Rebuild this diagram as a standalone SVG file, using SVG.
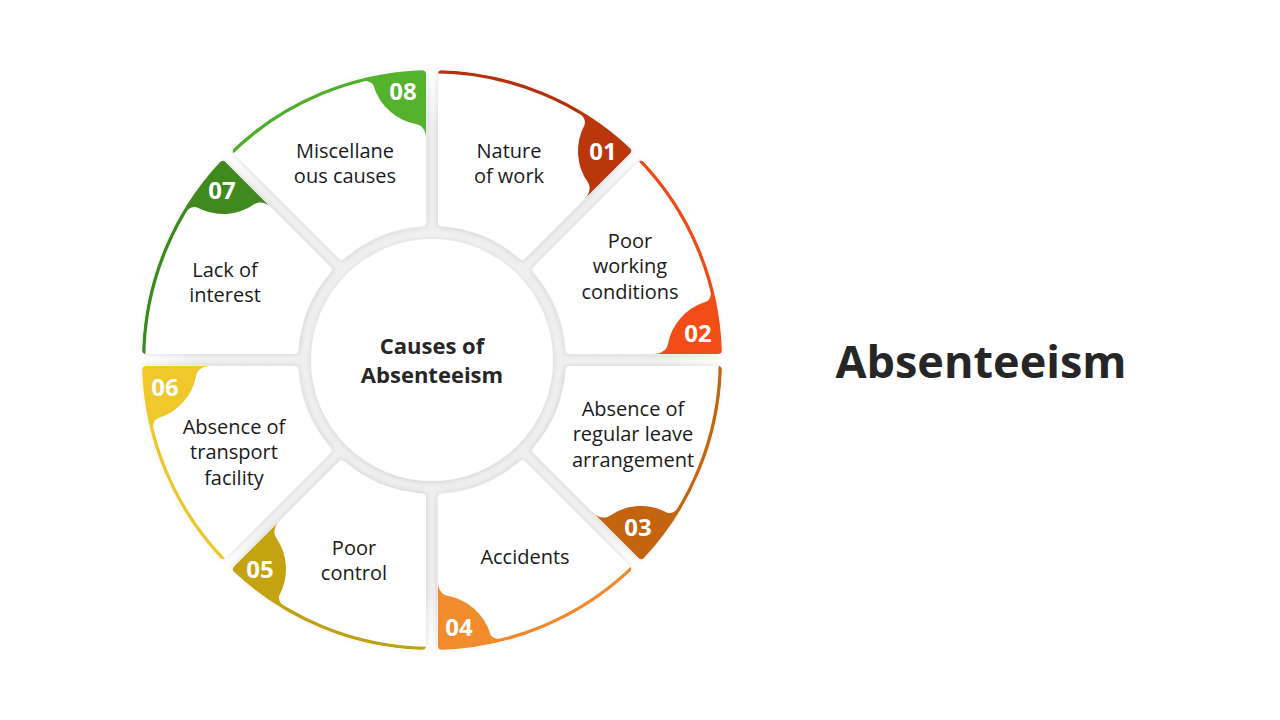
<svg xmlns="http://www.w3.org/2000/svg" xmlns:xlink="http://www.w3.org/1999/xlink" width="1280" height="720" viewBox="0 0 1280 720">
<defs>
<style>
.sec{fill:#fff;stroke:#fff;stroke-width:8;stroke-linejoin:round;filter:url(#sh)}
.arc{fill:none;stroke-width:3.6}
.lbl{font-family:"Open Sans","Noto Sans",sans-serif;font-size:20px;fill:#1a1a1a;text-anchor:middle}
.num{font-family:"Open Sans","Noto Sans",sans-serif;font-weight:700;font-size:24px;fill:#fff;text-anchor:middle}
.ctr{font-family:"Open Sans","Noto Sans",sans-serif;font-weight:700;font-size:22px;fill:#262626;text-anchor:middle}
.title{font-family:"Open Sans","Noto Sans",sans-serif;font-weight:700;font-size:45px;fill:#262626;text-anchor:middle}
</style>
<filter id="sh" x="-20%" y="-20%" width="140%" height="140%">
<feDropShadow dx="0" dy="1" stdDeviation="2.5" flood-color="#000" flood-opacity="0.13"/>
</filter>
<radialGradient id="bg" cx="432" cy="360" r="292" gradientUnits="userSpaceOnUse">
<stop offset="0" stop-color="#EFEFEF"/>
<stop offset="0.8" stop-color="#EFEFEF"/>
<stop offset="1" stop-color="#FFFFFF"/>
</radialGradient>
<path id="sp" d="M 10 -285.83 A 286 286 0 0 1 195.04 -209.18 L 90.25 -104.40 A 138 138 0 0 0 10 -137.64 Z"/>
<mask id="m" maskUnits="userSpaceOnUse" x="-300" y="-300" width="600" height="600">
<use xlink:href="#sp" fill="#fff" stroke="#fff" stroke-width="8" stroke-linejoin="round"/>
</mask>
<path id="arcp" d="M 0 -288.5 A 288.5 288.5 0 0 1 204 -204"/>
<path id="tab" d="M 131.7 -258.4 C 140.6 -253.9 156.6 -242.7 152.4 -234.8 A 55 55 0 0 0 155.95 -177.45 C 159.4 -172.5 157.0 -165.4 152.8 -161.2 L 226 -234 L 230 -290 L 140.7 -276.2 Z"/>
</defs>
<rect width="1280" height="720" fill="#fff"/>
<circle cx="432" cy="360" r="292" fill="url(#bg)"/>

<g id="node01">
<g transform="translate(432 360) rotate(0)">
<use xlink:href="#sp" class="sec"/>
<g mask="url(#m)"><use xlink:href="#arcp" class="arc" stroke="#B3300C"/><use xlink:href="#tab" fill="#BA370B"/></g>
</g>
<text class="lbl" x="509" y="158">Nature</text><text class="lbl" x="509" y="183">of work</text>
<text class="num" x="603" y="160">01</text>
</g>

<g id="node02">
<g transform="translate(432 360) rotate(45)">
<use xlink:href="#sp" class="sec"/>
<g mask="url(#m)"><use xlink:href="#arcp" class="arc" stroke="#EE4A18"/><use xlink:href="#tab" fill="#F24D16"/></g>
</g>
<text class="lbl" x="630" y="248">Poor</text><text class="lbl" x="630" y="273">working</text><text class="lbl" x="630" y="299">conditions</text>
<text class="num" x="698" y="342">02</text>
</g>

<g id="node03">
<g transform="translate(432 360) rotate(90)">
<use xlink:href="#sp" class="sec"/>
<g mask="url(#m)"><use xlink:href="#arcp" class="arc" stroke="#C46510"/><use xlink:href="#tab" fill="#C4640F"/></g>
</g>
<text class="lbl" x="633" y="416">Absence of</text><text class="lbl" x="633" y="441">regular leave</text><text class="lbl" x="633" y="467">arrangement</text>
<text class="num" x="638" y="536">03</text>
</g>

<g id="node04">
<g transform="translate(432 360) rotate(135)">
<use xlink:href="#sp" class="sec"/>
<g mask="url(#m)"><use xlink:href="#arcp" class="arc" stroke="#EE8A2C"/><use xlink:href="#tab" fill="#F08C2C"/></g>
</g>
<text class="lbl" x="525" y="564">Accidents</text>
<text class="num" x="459" y="636">04</text>
</g>

<g id="node05">
<g transform="translate(432 360) rotate(180)">
<use xlink:href="#sp" class="sec"/>
<g mask="url(#m)"><use xlink:href="#arcp" class="arc" stroke="#BFA012"/><use xlink:href="#tab" fill="#C4A312"/></g>
</g>
<text class="lbl" x="354" y="555">Poor</text><text class="lbl" x="354" y="580">control</text>
<text class="num" x="260" y="578">05</text>
</g>

<g id="node06">
<g transform="translate(432 360) rotate(225)">
<use xlink:href="#sp" class="sec"/>
<g mask="url(#m)"><use xlink:href="#arcp" class="arc" stroke="#EDC629"/><use xlink:href="#tab" fill="#EFC92B"/></g>
</g>
<text class="lbl" x="234" y="434">Absence of</text><text class="lbl" x="234" y="459">transport</text><text class="lbl" x="234" y="485">facility</text>
<text class="num" x="165" y="396">06</text>
</g>

<g id="node07">
<g transform="translate(432 360) rotate(270)">
<use xlink:href="#sp" class="sec"/>
<g mask="url(#m)"><use xlink:href="#arcp" class="arc" stroke="#3C8A1C"/><use xlink:href="#tab" fill="#3F891F"/></g>
</g>
<text class="lbl" x="225" y="277">Lack of</text><text class="lbl" x="225" y="302">interest</text>
<text class="num" x="222" y="199">07</text>
</g>

<g id="node08">
<g transform="translate(432 360) rotate(315)">
<use xlink:href="#sp" class="sec"/>
<g mask="url(#m)"><use xlink:href="#arcp" class="arc" stroke="#4FAE2A"/><use xlink:href="#tab" fill="#54B22C"/></g>
</g>
<text class="lbl" x="345" y="158">Miscellane</text><text class="lbl" x="345" y="183">ous causes</text>
<text class="num" x="403" y="100">08</text>
</g>

<g id="center">
<circle cx="432" cy="360" r="121" fill="#fff" filter="url(#sh)"/>
<text class="ctr" x="432" y="354">Causes of</text>
<text class="ctr" x="432" y="383">Absenteeism</text>
</g>

<g id="title">
<text class="title" x="981" y="378">Absenteeism</text>
</g>
</svg>
